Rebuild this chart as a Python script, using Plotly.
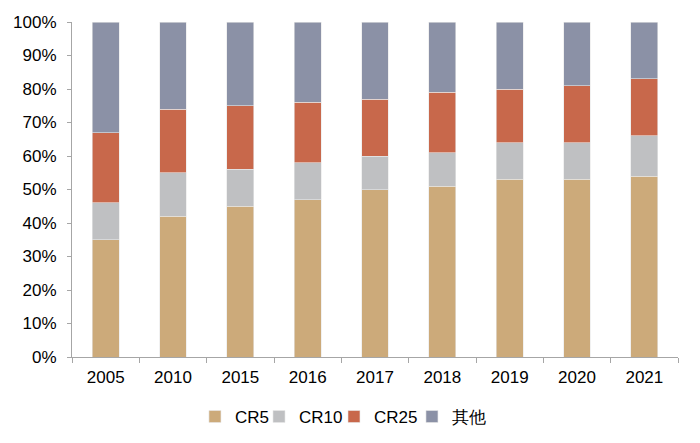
import plotly.graph_objects as go

years = ["2005", "2010", "2015", "2016", "2017", "2018", "2019", "2020", "2021"]
# cumulative concentration ratios (%)
cr5 = [35, 42, 45, 47, 50, 51, 53, 53, 54]
cr10 = [46, 55, 56, 58, 60, 61, 64, 64, 66]
cr25 = [67, 74, 75, 76, 77, 79, 80, 81, 83]

seg_cr5 = [a / 100 for a in cr5]
seg_cr10 = [(b - a) / 100 for a, b in zip(cr5, cr10)]
seg_cr25 = [(c - b) / 100 for b, c in zip(cr10, cr25)]
seg_other = [(100 - c) / 100 for c in cr25]

names = ["CR5", "CR10", "CR25", "其他"]
colors = ["#CCAA7A", "#BFC0C2", "#C8684B", "#8B91A6"]
segs = [seg_cr5, seg_cr10, seg_cr25, seg_other]
legend_ids = ["legend", "legend2", "legend3", "legend4"]
legend_x = [0.2029, 0.3086, 0.4323, 0.5610]

fig = go.Figure()
for n, c, s, lg in zip(names, colors, segs, legend_ids):
    fig.add_trace(go.Bar(x=years, y=s, name=n, marker_color=c, legend=lg,
                         marker_line=dict(width=0.6, color="#E8E8E8")))

legend_common = dict(orientation="h", y=-0.179, yanchor="middle", xanchor="left",
                     font=dict(size=17), itemwidth=30, bgcolor="rgba(0,0,0,0)")
layout_legends = {}
for lg, lx in zip(legend_ids, legend_x):
    layout_legends[lg] = dict(legend_common, x=lx)

fig.update_layout(
    barmode="stack",
    bargap=0.6,
    width=700, height=443,
    margin=dict(l=64, r=30, t=14, b=94),
    plot_bgcolor="white", paper_bgcolor="white",
    font=dict(family="Liberation Sans, Arial, sans-serif", size=17, color="#000000"),
    showlegend=True,
    **layout_legends,
)
fig.update_xaxes(showline=True, linecolor="#A6A6A6", linewidth=1,
                 ticks="outside", tickson="boundaries", ticklen=5, tickcolor="#A6A6A6",
                 showgrid=False, automargin=False, ticklabelstandoff=5)
fig.update_yaxes(range=[0, 1], tickformat=".0%", dtick=0.1,
                 showline=True, linecolor="#A6A6A6", linewidth=1,
                 ticks="outside", ticklen=4, tickcolor="#A6A6A6",
                 showgrid=False, zeroline=False, automargin=False, ticklabelstandoff=7)

fig.write_html("out.html")
